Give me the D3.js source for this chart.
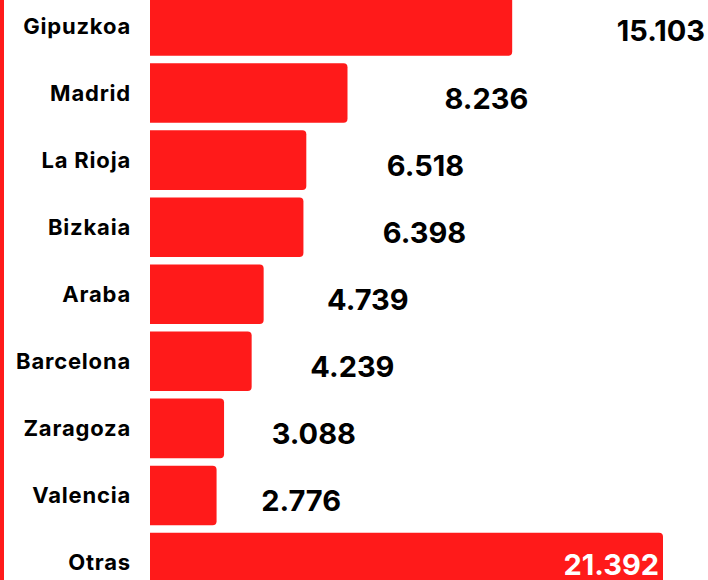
<!DOCTYPE html>
<html>
<head>
<meta charset="utf-8">
<script src="https://cdn.jsdelivr.net/npm/d3@7"></script>
<style>
  html, body { margin: 0; padding: 0; background: #fff; }
  svg { display: block; }
  .cat { font-family: Inter, "Noto Sans", sans-serif; font-weight: 700; font-size: 22px; letter-spacing: 0.8px; fill: #000; }
  .val { font-family: Inter, "Noto Sans", sans-serif; font-weight: 700; font-size: 29px; fill: #000; }
</style>
</head>
<body>
<script>
// data
const provinces = ['Gipuzkoa', 'Madrid', 'La Rioja', 'Bizkaia', 'Araba', 'Barcelona', 'Zaragoza', 'Valencia', 'Otras'];
const values = [15103, 8236, 6518, 6398, 4739, 4239, 3088, 2776, 21392];

const W = 708, H = 580;
const red = '#ff1a1a';
const fmt = d3.formatLocale({decimal: ',', thousands: '.', grouping: [3]}).format(',d');

const svg = d3.select('body').append('svg')
  .attr('width', W)
  .attr('height', H);

// red stripe on the left edge
svg.append('rect')
  .attr('x', 0).attr('y', 0)
  .attr('width', 4).attr('height', H)
  .attr('fill', red);

const x = d3.scaleLinear()
  .domain([0, d3.max(values)])
  .range([150, 663]);

const y = d3.scaleBand()
  .domain(provinces)
  .range([-7.5, 596])
  .paddingInner(0.112)
  .paddingOuter(0.056);

const data = provinces.map((p, i) => ({name: p, value: values[i]}));

// bar with rounded right corners only
function barPath(d) {
  const x0 = x(0), x1 = x(d.value), y0 = y(d.name), h = y.bandwidth(), r = 4;
  return `M${x0},${y0}H${x1 - r}Q${x1},${y0} ${x1},${y0 + r}V${y0 + h - r}Q${x1},${y0 + h} ${x1 - r},${y0 + h}H${x0}Z`;
}

svg.append('g').selectAll('path')
  .data(data)
  .enter().append('path')
    .attr('d', barPath)
    .attr('fill', red);

// category labels
svg.append('g').selectAll('text')
  .data(data)
  .enter().append('text')
    .attr('class', 'cat')
    .attr('x', 131)
    .attr('y', d => y(d.name) + y.bandwidth() / 2)
    .attr('dy', '0.36em')
    .attr('text-anchor', 'end')
    .text(d => d.name);

// value labels, floated to the right of the bars
const maxV = d3.max(values);
function labelPos(d) {
  if (d.value === maxV) return {x: x(d.value) - 4, anchor: 'end', inside: true};
  const px = x(0) + (x(d.value) - x(0)) * 1.4 + 18;
  if (px > W - 100) return {x: W - 3, anchor: 'end', inside: false};
  return {x: px, anchor: 'start', inside: false};
}

svg.append('g').selectAll('text')
  .data(data)
  .enter().append('text')
    .attr('class', 'val')
    .attr('x', d => labelPos(d).x)
    .attr('text-anchor', d => labelPos(d).anchor)
    .attr('y', d => y(d.name) + y.bandwidth() / 2 + (labelPos(d).inside ? 2 : 5))
    .attr('dy', '0.36em')
    .style('fill', d => labelPos(d).inside ? '#fff' : '#000')
    .text(d => fmt(d.value));
</script>
</body>
</html>
